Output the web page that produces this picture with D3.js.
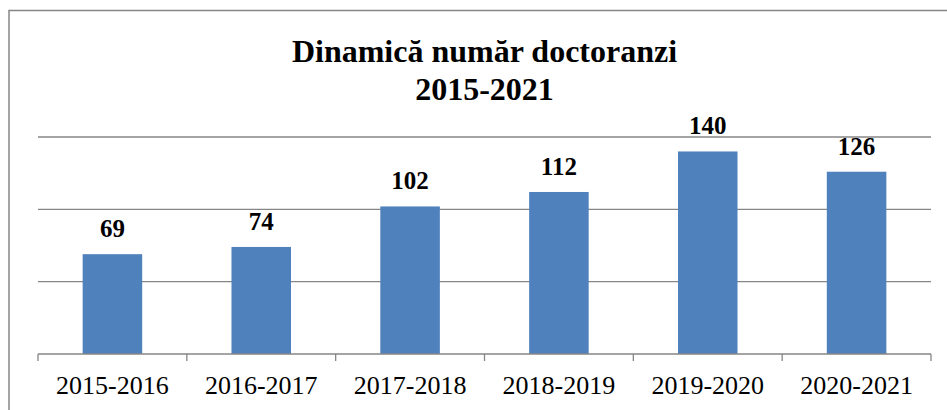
<!DOCTYPE html>
<html>
<head>
<meta charset="utf-8">
<script src="https://cdn.jsdelivr.net/npm/d3@7"></script>
<style>
  html, body { margin: 0; padding: 0; background: #fff; }
  svg { display: block; }
</style>
</head>
<body>
<svg id="chart" width="947" height="410"></svg>
<script>
const categories = ["2015-2016", "2016-2017", "2017-2018", "2018-2019", "2019-2020", "2020-2021"];
const values = [69, 74, 102, 112, 140, 126];
const gridTicks = [50, 100, 150];
const titleLines = ["Dinamică număr doctoranzi", "2015-2021"];

const svg = d3.select("#chart");
const serif = '"Liberation Serif", "Times New Roman", Tinos, Times';

// frame
svg.append("rect").attr("x", 9).attr("y", 10.5).attr("width", 945).attr("height", 410)
  .attr("fill", "#fff").attr("stroke", "#868686").attr("stroke-width", 1.5);

const x = d3.scaleBand().domain(categories).range([38, 931]).paddingInner(0.6).paddingOuter(0.3);
const y = d3.scaleLinear().domain([0, 150]).range([354, 137]);

// gridlines
svg.append("g").selectAll("line").data(gridTicks).join("line")
  .attr("x1", 38).attr("x2", 931)
  .attr("y1", d => y(d)).attr("y2", d => y(d))
  .attr("stroke", "#868686").attr("stroke-width", 1.3);

// bars
svg.append("g").selectAll("rect").data(values).join("rect")
  .attr("x", (d, i) => x(categories[i]))
  .attr("y", d => y(d))
  .attr("width", x.bandwidth())
  .attr("height", d => y(0) - y(d))
  .attr("fill", "#4F81BD");

// axis
const axis = d3.axisBottom(x).tickSize(0).tickPadding(0);
const gx = svg.append("g").attr("transform", `translate(0,${y(0)})`).call(axis);
gx.select(".domain").remove();
gx.selectAll("text").style("font-family", serif).style("font-size", "26px").attr("fill", "#000")
  .attr("dy", null).attr("y", 40);
svg.append("line").attr("x1", 38).attr("x2", 931).attr("y1", y(0)).attr("y2", y(0))
  .attr("stroke", "#868686").attr("stroke-width", 1.3);
const step = x.step();
const bounds = d3.range(categories.length + 1).map(i => 38 + i * step);
svg.append("g").selectAll("line").data(bounds).join("line")
  .attr("x1", d => d).attr("x2", d => d)
  .attr("y1", y(0)).attr("y2", y(0) + 7)
  .attr("stroke", "#868686").attr("stroke-width", 1.3);

// value labels
svg.append("g").selectAll("text").data(values).join("text")
  .attr("x", (d, i) => x(categories[i]) + x.bandwidth() / 2)
  .attr("y", d => y(d) - 17)
  .attr("text-anchor", "middle")
  .style("font-family", serif).style("font-weight", "bold").style("font-size", "25px")
  .text(d => d);

// title
svg.append("g").selectAll("text").data(titleLines).join("text")
  .attr("x", 484.5).attr("y", (d, i) => 62 + i * 38)
  .attr("text-anchor", "middle")
  .style("font-family", serif).style("font-weight", "bold").style("font-size", "32px")
  .text(d => d);
</script>
</body>
</html>
